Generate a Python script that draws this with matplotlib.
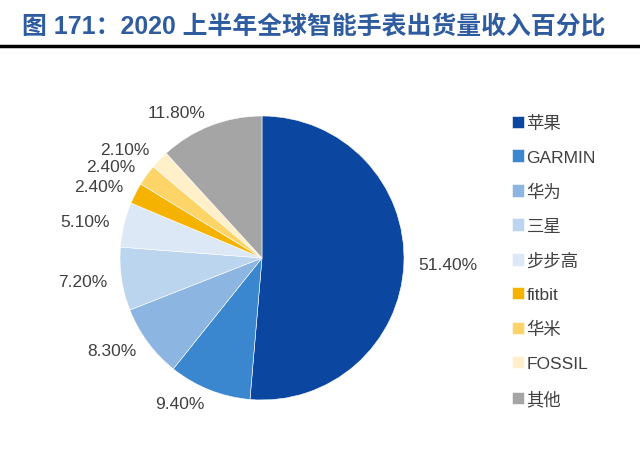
import matplotlib.pyplot as plt
from matplotlib.lines import Line2D

plt.rcParams['font.family'] = ['Liberation Sans', 'Noto Sans CJK SC', 'DejaVu Sans']

brands = ['苹果', 'GARMIN', '华为', '三星', '步步高', 'fitbit', '华米', 'FOSSIL', '其他']
shares = [51.4, 9.4, 8.3, 7.2, 5.1, 2.4, 2.4, 2.1, 11.8]
colors = ['#0B47A0', '#3A86CF', '#8DB5E2', '#BCD5EF', '#DCE8F5',
          '#F5B300', '#FDD467', '#FFF0CA', '#A5A5A5']

fig = plt.figure(figsize=(6.4, 4.56), dpi=100)

# 标题 + 下划线
fig.text(0.034, 1 - 27 / 456, '图 171：2020 上半年全球智能手表出货量收入百分比',
         fontsize=17.9, fontweight='bold', color='#2E5C9E', va='center', ha='left')
fig.add_artist(Line2D([0, 1], [1 - 46.5 / 456] * 2, color='black', lw=2.5,
                      transform=fig.transFigure))

ax = fig.add_axes([0.132, 0.0428, 0.5547, 0.7785])
wedges, texts = ax.pie(shares, colors=colors, startangle=90, counterclock=False,
                       labels=['%.2f%%' % s for s in shares], labeldistance=1.1,
                       wedgeprops=dict(edgecolor='white', linewidth=0.4),
                       textprops=dict(fontsize=12.5, color='#404040'))
ax.set_xlim(-1.25, 1.25)
ax.set_ylim(-1.25, 1.25)

fig.legend(wedges, brands, loc='upper left', bbox_to_anchor=(503 / 640, 1 - 107 / 456),
           frameon=False, fontsize=12.5, handlelength=0.7, handleheight=0.7,
           handletextpad=0.15, labelspacing=1.08, borderpad=0, labelcolor='#404040')

plt.savefig('out.png', dpi=100)
